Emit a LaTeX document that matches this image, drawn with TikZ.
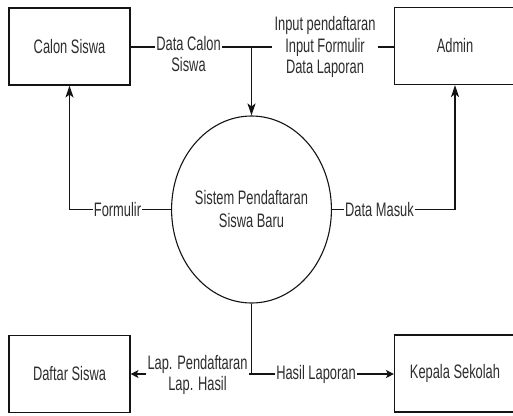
\documentclass[tikz,border=0pt]{standalone}
\usepackage{fontspec}
\setmainfont{Liberation Sans}[FakeStretch=0.66]
\usetikzlibrary{arrows.meta,shapes.geometric}

\definecolor{inkline}{RGB}{20,20,20}
\definecolor{inktext}{RGB}{45,45,45}

\tikzset{
  entity/.style={draw=inkline, line width=1.1pt, minimum width=121pt, minimum height=77pt,
                 inner sep=0pt, text=inktext},
  process/.style={ellipse, draw=inkline, line width=1.1pt, minimum width=132pt,
                  minimum height=187pt, inner sep=0pt, align=center, text=inktext},
  flow/.style={draw=inkline, line width=1.1pt},
  vtip/.style={flow, -{Stealth[length=12pt,width=8pt,inset=3pt]}},
  htip/.style={flow, -{Stealth[length=8pt,width=8pt,inset=2pt]}},
  flowlabel/.style={fill=white, text=inktext, align=center, inner sep=2pt},
}

\begin{document}
\begin{tikzpicture}[x=1pt, y=-1pt,
  every node/.append style={font=\fontsize{19.5}{21.5}\selectfont}]
  \useasboundingbox (0,0) rectangle (513,415);

  % external entities and the central process
  \node[entity] (cs) at (69.5,46.5) {Calon Siswa};
  \node[entity] (ad) at (455,46) {Admin};
  \node[entity] (ds) at (69.5,374) {Daftar Siswa};
  \node[entity] (ks) at (455,373.5) {Kepala Sekolah};
  \node[process, font=\fontsize{19.5}{23}\selectfont] (sys) at (251.5,209.5)
       {Sistem Pendaftaran\\Siswa Baru};

  % junctions where flows merge or split
  \coordinate (jtop) at (251.5,47);
  \coordinate (jbot) at (251.5,374);

  % inputs into the process
  \draw[flow] (cs.east |- jtop) -- (jtop);
  \draw[flow] (ad.west |- jtop) -- (jtop);
  \draw[vtip] (jtop) -- (sys.north);

  % outputs back to the entities above
  \draw[vtip] (sys.west) -| (cs.south);
  \draw[vtip] (sys.east) -| (ad.south);

  % outputs to the entities below
  \draw[flow] (sys.south) -- (jbot);
  \draw[htip] (jbot) -- (ds.east |- jbot);
  \draw[htip] (jbot) -- (ks.west |- jbot);

  % flow labels
  \node[flowlabel, inner sep=1pt, anchor=north] at (188.5,35) {Data Calon\\Siswa};
  \node[flowlabel, inner sep=3pt] at (325,47) {Input pendaftaran\\Input Formulir\\Data Laporan};
  \node[flowlabel, inner sep=1pt] at (117.5,210) {Formulir};
  \node[flowlabel, inner sep=1pt] at (379.5,210) {Data Masuk};
  \node[flowlabel] at (197.5,375) {Lap. Pendaftaran\\Lap. Hasil};
  \node[flowlabel, inner sep=1pt] at (316,374) {Hasil Laporan};
\end{tikzpicture}
\end{document}
